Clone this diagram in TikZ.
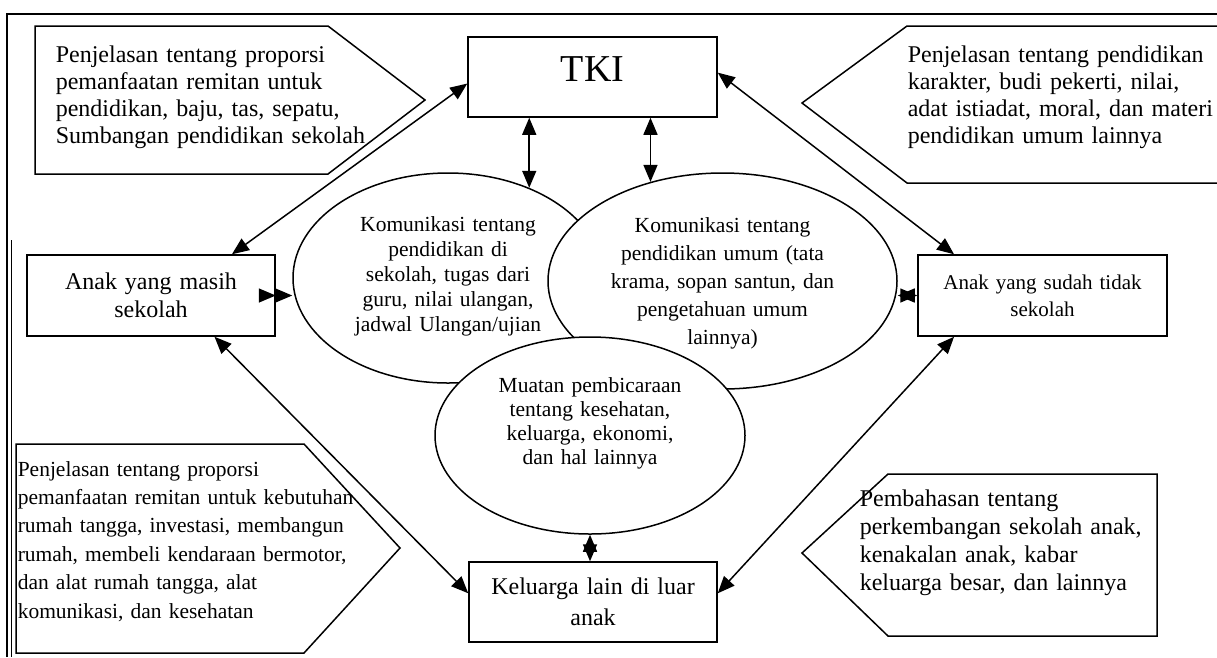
\documentclass[tikz,border=0pt]{standalone}
\usepackage{fontspec}
\setmainfont{Liberation Serif}
\usetikzlibrary{shapes.geometric,arrows.meta}
\begin{document}
\begin{tikzpicture}[>={Triangle[length=17pt,width=14pt]},x=1pt,y=-1pt,line width=1.5pt,
    kotak/.style={draw,inner sep=0pt,align=center,minimum height=80pt},
    elips/.style={draw,ellipse,fill=white,inner sep=0pt},
    isi/.style={inner sep=0pt,align=center},
    ket/.style={anchor=base west,inner sep=0pt,text width=360pt,align=left}]
    \useasboundingbox (0,0) rectangle (1217,657);
    \draw (7,657)--(7,14)--(1217,14);%bingkai
    \draw (11.5,240)--(11.5,657);
    \draw (35,26)--(328,26)--(425,100)--(328,174)--(35,174)--cycle;
    \draw (802,103)--(907,26)--(1230,26)--(1230,183)--(907,183)--cycle;
    \draw (16,444)--(304,444)--(400,548)--(304,653)--(16,653)--cycle;
    \draw (802,553)--(888,474)--(1157,474)--(1157,636)--(888,636)--cycle;
    \node[ket,font=\fontsize{24}{27}\selectfont] (ket1) at (55,62) {Penjelasan tentang proporsi\\ pemanfaatan remitan untuk\\ pendidikan, baju, tas, sepatu,\\ Sumbangan pendidikan sekolah};
    \node[ket,font=\fontsize{24}{27}\selectfont] (ket2) at (907,62) {Penjelasan tentang pendidikan\\ karakter, budi pekerti, nilai,\\ adat istiadat, moral, dan materi\\ pendidikan umum lainnya};
    \node[ket,font=\fontsize{21.5}{28.4}\selectfont] (ket3) at (17,476) {Penjelasan tentang proporsi\\ pemanfaatan remitan untuk kebutuhan\\ rumah tangga, investasi, membangun\\ rumah, membeli kendaraan bermotor,\\ dan alat rumah tangga, alat\\ komunikasi, dan kesehatan};
    \node[ket,font=\fontsize{24}{28.3}\selectfont] (ket4) at (859,506) {Pembahasan tentang\\ perkembangan sekolah anak,\\ kenakalan anak, kabar\\ keluarga besar, dan lainnya};
    % kotak
    \node[kotak,minimum width=249pt,text depth=16pt,font=\fontsize{38}{40}\selectfont] (tki) at (592.5,77) {TKI};
    \node[kotak,minimum width=248pt,minimum height=81pt,text width=230pt,font=\fontsize{24}{28}\selectfont] (anak1) at (151,295.5) {Anak yang masih\\ sekolah};
    \node[kotak,minimum width=249pt,minimum height=81pt,text width=230pt,font=\fontsize{21}{27}\selectfont] (anak2) at (1042.5,295.5) {Anak yang sudah tidak\\ sekolah};
    \node[kotak,minimum width=248pt,text width=230pt,font=\fontsize{24}{31}\selectfont] (kel) at (593,602) {Keluarga lain di luar\\ anak};
    % elips
    \node[elips,minimum width=310pt,minimum height=210pt] (el1) at (448,278) {};
    \node[isi,text width=220pt,font=\fontsize{21.5}{25}\selectfont] (t1) at ([yshift=2pt]el1.center) {Komunikasi tentang\\ pendidikan di\\ sekolah, tugas dari\\ guru, nilai ulangan,\\ jadwal Ulangan/ujian};
    \node[elips,minimum width=349pt,minimum height=216pt] (el2) at (722.5,281) {};
    \node[isi,text width=240pt,font=\fontsize{21.5}{28}\selectfont] (t2) at ([yshift=-2pt]el2.center) {Komunikasi tentang\\ pendidikan umum (tata\\ krama, sopan santun, dan\\ pengetahuan umum\\ lainnya)};
    \node[elips,minimum width=310pt,minimum height=197pt] (el3) at (590,435.5) {};
    \node[isi,text width=220pt,font=\fontsize{21.5}{24}\selectfont] (t3) at ([yshift=12.5pt]el3.center) {Muatan pembicaraan\\ tentang kesehatan,\\ keluarga, ekonomi,\\ dan hal lainnya};
    % panah
    \foreach \a/\b in {anak1.27/tki.183,tki.2/anak2.155,anak1.-33/kel.176,anak2.205/kel.4}{
        \draw[<->] (\a)--(\b);
    }
    \draw[<->] (el1.48 |- tki.south)--(el1.48);
    \draw[<->] (el2.126 |- tki.south)--(el2.126);
    \draw[<->] (anak1.east)--(anak1.east -| el1.west);
    \draw[<->] (anak2.west -| el2.east)--(anak2.west);
    \draw[<->] (el3.south)--(el3.south |- kel.north);
\end{tikzpicture}
\end{document}
